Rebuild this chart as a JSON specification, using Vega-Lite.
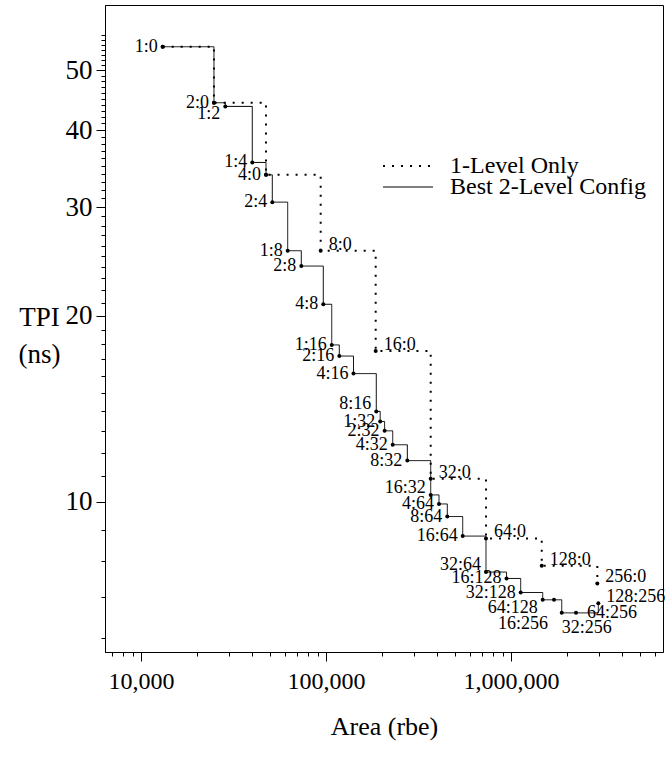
{
  "$schema": "https://vega.github.io/schema/vega-lite/v6.json",
  "width": 558,
  "height": 647,
  "autosize": {"type": "none"},
  "padding": {"left": 105, "top": 5, "right": 7, "bottom": 107},
  "background": "white",
  "config": {
    "view": {"stroke": "black", "strokeWidth": 1},
    "font": "Liberation Serif",
    "axis": {
      "domainColor": "black", "tickColor": "black", "labelColor": "black", "titleColor": "black",
      "labelFont": "Liberation Serif", "titleFont": "Liberation Serif", "titleFontWeight": "normal",
      "labelFontSize": 24, "titleFontSize": 24, "grid": false, "domainWidth": 1, "tickWidth": 1
    },
    "legend": {"labelFont": "Liberation Serif", "labelColor": "black"}
  },
  "datasets": {
    "tpi": [
      {"series": "1-Level Only", "config": "1:0", "area": 13100, "tpi": 54.6, "pos": "left"},
      {"series": "1-Level Only", "config": "2:0", "area": 24800, "tpi": 44.3, "pos": "left"},
      {"series": "1-Level Only", "config": "4:0", "area": 47400, "tpi": 33.85, "pos": "left"},
      {"series": "1-Level Only", "config": "8:0", "area": 93600, "tpi": 25.5, "pos": "right"},
      {"series": "1-Level Only", "config": "16:0", "area": 185600, "tpi": 17.54, "pos": "right"},
      {"series": "1-Level Only", "config": "32:0", "area": 368100, "tpi": 10.89, "pos": "right"},
      {"series": "1-Level Only", "config": "64:0", "area": 732500, "tpi": 8.715, "pos": "right"},
      {"series": "1-Level Only", "config": "128:0", "area": 1466000, "tpi": 7.87, "pos": "right"},
      {"series": "1-Level Only", "config": "256:0", "area": 2928000, "tpi": 7.365, "pos": "right"},
      {"series": "Best 2-Level Config", "config": "1:0", "area": 13100, "tpi": 54.6, "pos": "none"},
      {"series": "Best 2-Level Config", "config": "2:0", "area": 24800, "tpi": 44.3, "pos": "none"},
      {"series": "Best 2-Level Config", "config": "1:2", "area": 28560, "tpi": 43.7, "pos": "below-left"},
      {"series": "Best 2-Level Config", "config": "1:4", "area": 39960, "tpi": 35.45, "pos": "left"},
      {"series": "Best 2-Level Config", "config": "4:0", "area": 47400, "tpi": 33.85, "pos": "none"},
      {"series": "Best 2-Level Config", "config": "2:4", "area": 51260, "tpi": 30.57, "pos": "left"},
      {"series": "Best 2-Level Config", "config": "1:8", "area": 62080, "tpi": 25.5, "pos": "left"},
      {"series": "Best 2-Level Config", "config": "2:8", "area": 73550, "tpi": 24.08, "pos": "left"},
      {"series": "Best 2-Level Config", "config": "4:8", "area": 96700, "tpi": 20.88, "pos": "left"},
      {"series": "Best 2-Level Config", "config": "1:16", "area": 107400, "tpi": 17.94, "pos": "left"},
      {"series": "Best 2-Level Config", "config": "2:16", "area": 118000, "tpi": 17.21, "pos": "left"},
      {"series": "Best 2-Level Config", "config": "4:16", "area": 140800, "tpi": 16.12, "pos": "left"},
      {"series": "Best 2-Level Config", "config": "8:16", "area": 187000, "tpi": 14.0, "pos": "above-left"},
      {"series": "Best 2-Level Config", "config": "1:32", "area": 196300, "tpi": 13.48, "pos": "left"},
      {"series": "Best 2-Level Config", "config": "2:32", "area": 207400, "tpi": 13.02, "pos": "left"},
      {"series": "Best 2-Level Config", "config": "4:32", "area": 229400, "tpi": 12.36, "pos": "left"},
      {"series": "Best 2-Level Config", "config": "8:32", "area": 275200, "tpi": 11.65, "pos": "left"},
      {"series": "Best 2-Level Config", "config": "16:32", "area": 368100, "tpi": 10.25, "pos": "above-left"},
      {"series": "Best 2-Level Config", "config": "4:64", "area": 408200, "tpi": 9.91, "pos": "left"},
      {"series": "Best 2-Level Config", "config": "8:64", "area": 452500, "tpi": 9.455, "pos": "left"},
      {"series": "Best 2-Level Config", "config": "16:64", "area": 548200, "tpi": 8.79, "pos": "left"},
      {"series": "Best 2-Level Config", "config": "32:64", "area": 732500, "tpi": 7.686, "pos": "above-left"},
      {"series": "Best 2-Level Config", "config": "16:128", "area": 946000, "tpi": 7.504, "pos": "left"},
      {"series": "Best 2-Level Config", "config": "32:128", "area": 1128000, "tpi": 7.121, "pos": "left"},
      {"series": "Best 2-Level Config", "config": "64:128", "area": 1484000, "tpi": 6.93, "pos": "below-left"},
      {"series": "Best 2-Level Config", "config": "16:256", "area": 1708000, "tpi": 6.93, "pos": "under-left"},
      {"series": "Best 2-Level Config", "config": "32:256", "area": 1880000, "tpi": 6.6, "pos": "under-right"},
      {"series": "Best 2-Level Config", "config": "64:256", "area": 2246000, "tpi": 6.6, "pos": "right-level"},
      {"series": "Best 2-Level Config", "config": "128:256", "area": 2965000, "tpi": 6.843, "pos": "right"}
    ]
  },
  "data": {"name": "tpi"},
  "resolve": {"axis": {"x": "independent", "y": "independent"}},
  "layer": [
    {
      "mark": {"type": "line", "interpolate": "step-after", "color": "black"},
      "encoding": {
        "x": {"field": "area", "type": "quantitative",
              "scale": {"type": "log", "domain": [6390, 6631000], "nice": false},
              "axis": {"orient": "bottom", "values": [10000, 100000, 1000000], "format": ",d", "tickSize": 9, "labelPadding": 8, "title": "Area (rbe)", "titleFontSize": 26, "titlePadding": 20, "labelFlush": false}},
        "y": {"field": "tpi", "type": "quantitative",
              "scale": {"type": "log", "domain": [5.703, 63.8], "nice": false},
              "axis": {"orient": "left", "values": [10, 20, 30, 40, 50], "format": "d", "tickSize": 9, "labelPadding": 4, "labelFontSize": 27, "title": ["TPI", "(ns)"], "titleFontSize": 27, "titleAngle": 0, "titleAlign": "center", "titleBaseline": "alphabetic", "titleX": -66, "titleY": 320, "titleLineHeight": 37}},
        "strokeDash": {"field": "series", "type": "nominal",
              "scale": {"domain": ["1-Level Only", "Best 2-Level Config"], "range": [[2, 7], [1, 0]]},
              "legend": {"title": null, "orient": "none", "legendX": 271, "legendY": 152, "symbolType": "M-1,0H9", "symbolSize": 100, "symbolStrokeColor": "black", "labelFontSize": 24, "labelOffset": 50, "labelLimit": 400, "rowPadding": -8, "clipHeight": 18}},
        "strokeWidth": {"field": "series", "type": "nominal",
              "scale": {"domain": ["1-Level Only", "Best 2-Level Config"], "range": [2, 1]}}
      }
    },
    {
      "mark": {"type": "circle", "color": "black", "opacity": 1, "size": 16},
      "encoding": {
        "x": {"field": "area", "type": "quantitative", "scale": {"type": "log"},
              "axis": {"orient": "bottom", "values": [7000, 8000, 9000, 20000, 30000, 40000, 50000, 60000, 70000, 80000, 90000, 200000, 300000, 400000, 500000, 600000, 700000, 800000, 900000, 2000000, 3000000, 4000000, 5000000, 6000000], "tickSize": 4, "labels": false, "title": null, "domain": false}},
        "y": {"field": "tpi", "type": "quantitative", "scale": {"type": "log"},
              "axis": {"orient": "left", "values": [6, 7, 8, 9, 11, 12, 13, 14, 15, 16, 17, 18, 19, 21, 22, 23, 24, 25, 26, 27, 28, 29, 31, 32, 33, 34, 35, 36, 37, 38, 39, 41, 42, 43, 44, 45, 46, 47, 48, 49, 51, 52, 53, 54, 55, 56, 57], "tickSize": 4, "labels": false, "title": null, "domain": false}}
      }
    },
    {
      "transform": [{"filter": "datum.pos === 'left'"}],
      "mark": {"type": "text", "align": "right", "baseline": "middle", "dx": -5, "dy": 0, "fontSize": 18, "font": "Liberation Serif", "color": "black"},
      "encoding": {
        "x": {"field": "area", "type": "quantitative", "axis": null},
        "y": {"field": "tpi", "type": "quantitative", "axis": null},
        "text": {"field": "config"}
      }
    },
    {
      "transform": [{"filter": "datum.pos === 'above-left'"}],
      "mark": {"type": "text", "align": "right", "baseline": "middle", "dx": -5, "dy": -7, "fontSize": 18, "font": "Liberation Serif", "color": "black"},
      "encoding": {
        "x": {"field": "area", "type": "quantitative", "axis": null},
        "y": {"field": "tpi", "type": "quantitative", "axis": null},
        "text": {"field": "config"}
      }
    },
    {
      "transform": [{"filter": "datum.pos === 'below-left'"}],
      "mark": {"type": "text", "align": "right", "baseline": "middle", "dx": -5, "dy": 8, "fontSize": 18, "font": "Liberation Serif", "color": "black"},
      "encoding": {
        "x": {"field": "area", "type": "quantitative", "axis": null},
        "y": {"field": "tpi", "type": "quantitative", "axis": null},
        "text": {"field": "config"}
      }
    },
    {
      "transform": [{"filter": "datum.pos === 'under-left'"}],
      "mark": {"type": "text", "align": "right", "baseline": "middle", "dx": -6, "dy": 24, "fontSize": 18, "font": "Liberation Serif", "color": "black"},
      "encoding": {
        "x": {"field": "area", "type": "quantitative", "axis": null},
        "y": {"field": "tpi", "type": "quantitative", "axis": null},
        "text": {"field": "config"}
      }
    },
    {
      "transform": [{"filter": "datum.pos === 'under-right'"}],
      "mark": {"type": "text", "align": "center", "baseline": "middle", "dx": 25, "dy": 15, "fontSize": 18, "font": "Liberation Serif", "color": "black"},
      "encoding": {
        "x": {"field": "area", "type": "quantitative", "axis": null},
        "y": {"field": "tpi", "type": "quantitative", "axis": null},
        "text": {"field": "config"}
      }
    },
    {
      "transform": [{"filter": "datum.pos === 'right-level'"}],
      "mark": {"type": "text", "align": "left", "baseline": "middle", "dx": 11, "dy": 0, "fontSize": 18, "font": "Liberation Serif", "color": "black"},
      "encoding": {
        "x": {"field": "area", "type": "quantitative", "axis": null},
        "y": {"field": "tpi", "type": "quantitative", "axis": null},
        "text": {"field": "config"}
      }
    },
    {
      "transform": [{"filter": "datum.pos === 'right'"}],
      "mark": {"type": "text", "align": "left", "baseline": "middle", "dx": 8, "dy": -6, "fontSize": 18, "font": "Liberation Serif", "color": "black"},
      "encoding": {
        "x": {"field": "area", "type": "quantitative", "axis": null},
        "y": {"field": "tpi", "type": "quantitative", "axis": null},
        "text": {"field": "config"}
      }
    }
  ]
}
